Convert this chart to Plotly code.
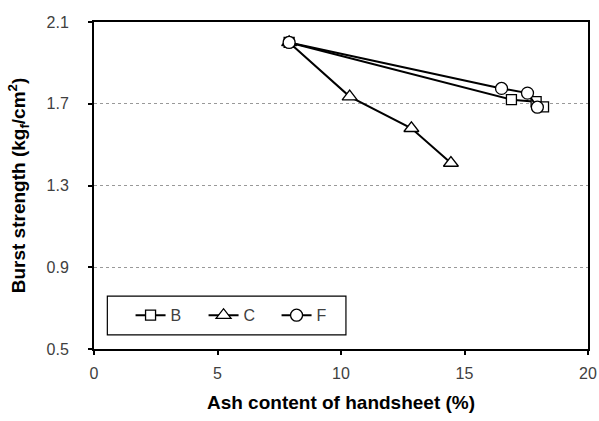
import plotly.graph_objects as go

series_names = ["B", "C", "F"]
b_x = [7.9, 16.9, 17.9, 18.2]
b_y = [2.00, 1.72, 1.71, 1.685]
c_x = [7.9, 10.35, 12.85, 14.45]
c_y = [2.00, 1.735, 1.58, 1.41]
f_x = [7.9, 16.5, 17.55, 17.95]
f_y = [2.00, 1.775, 1.752, 1.683]

x_ticks = [0, 5, 10, 15, 20]
y_ticks = [0.5, 0.9, 1.3, 1.7, 2.1]

font_fam = "Liberation Sans, Arial, sans-serif"
tick_col = "#404040"

fig = go.Figure()
specs = [
    (series_names[0], b_x, b_y, "square", 10),
    (series_names[1], c_x, c_y, "triangle-up", 13),
    (series_names[2], f_x, f_y, "circle", 12),
]
for name, xs, ys, sym, sz in specs:
    fig.add_trace(go.Scatter(
        x=xs, y=ys, name=name, mode="lines+markers",
        line=dict(color="black", width=2),
        marker=dict(symbol=sym, size=sz, color="white",
                    line=dict(color="black", width=1.3)),
    ))

fig.update_layout(
    width=599, height=421,
    margin=dict(l=94, r=11, t=22, b=72),
    paper_bgcolor="white", plot_bgcolor="white",
    font=dict(family=font_fam, size=16, color=tick_col),
    showlegend=True,
    legend=dict(
        orientation="h", x=0.074, y=0.103, xanchor="left", yanchor="middle",
        bgcolor="rgba(0,0,0,0)", borderwidth=0,
        font=dict(size=16, color=tick_col),
        itemwidth=30, entrywidth=28, entrywidthmode="pixels",
    ),
    shapes=[dict(type="rect", xref="paper", yref="paper",
                 x0=0.027, x1=0.51, y0=0.043, y1=0.162,
                 line=dict(color="black", width=1.2), fillcolor="rgba(0,0,0,0)")],
)
fig.update_xaxes(
    range=[0, 20], tickvals=x_ticks, ticktext=[str(v) for v in x_ticks],
    showline=True, linecolor="black", linewidth=2, mirror=True,
    ticks="outside", ticklen=4, tickcolor="black", tickwidth=1.5,
    showgrid=False, zeroline=False, automargin=False,
    tickfont=dict(size=16, color=tick_col), ticklabelstandoff=5,
    title=dict(text="<b>Ash content of handsheet (%)</b>",
               font=dict(size=19, color="black"), standoff=14),
)
fig.update_yaxes(
    range=[0.5, 2.1], tickvals=y_ticks, ticktext=[f"{v:.1f}" for v in y_ticks],
    showline=True, linecolor="black", linewidth=2, mirror=True,
    ticks="outside", ticklen=4, tickcolor="black", tickwidth=1.5,
    showgrid=True, gridcolor="#999999", griddash="dot", gridwidth=1,
    zeroline=False, automargin=False,
    tickfont=dict(size=16, color=tick_col), ticklabelstandoff=16,
    title=dict(text="<b>Burst strength (kg<sub>f</sub>/cm<sup>2</sup>)</b>",
               font=dict(size=19, color="black"), standoff=16),
)

fig.write_html("out.html", config={"displayModeBar": False},
               post_script="document.body.style.margin='0';")
